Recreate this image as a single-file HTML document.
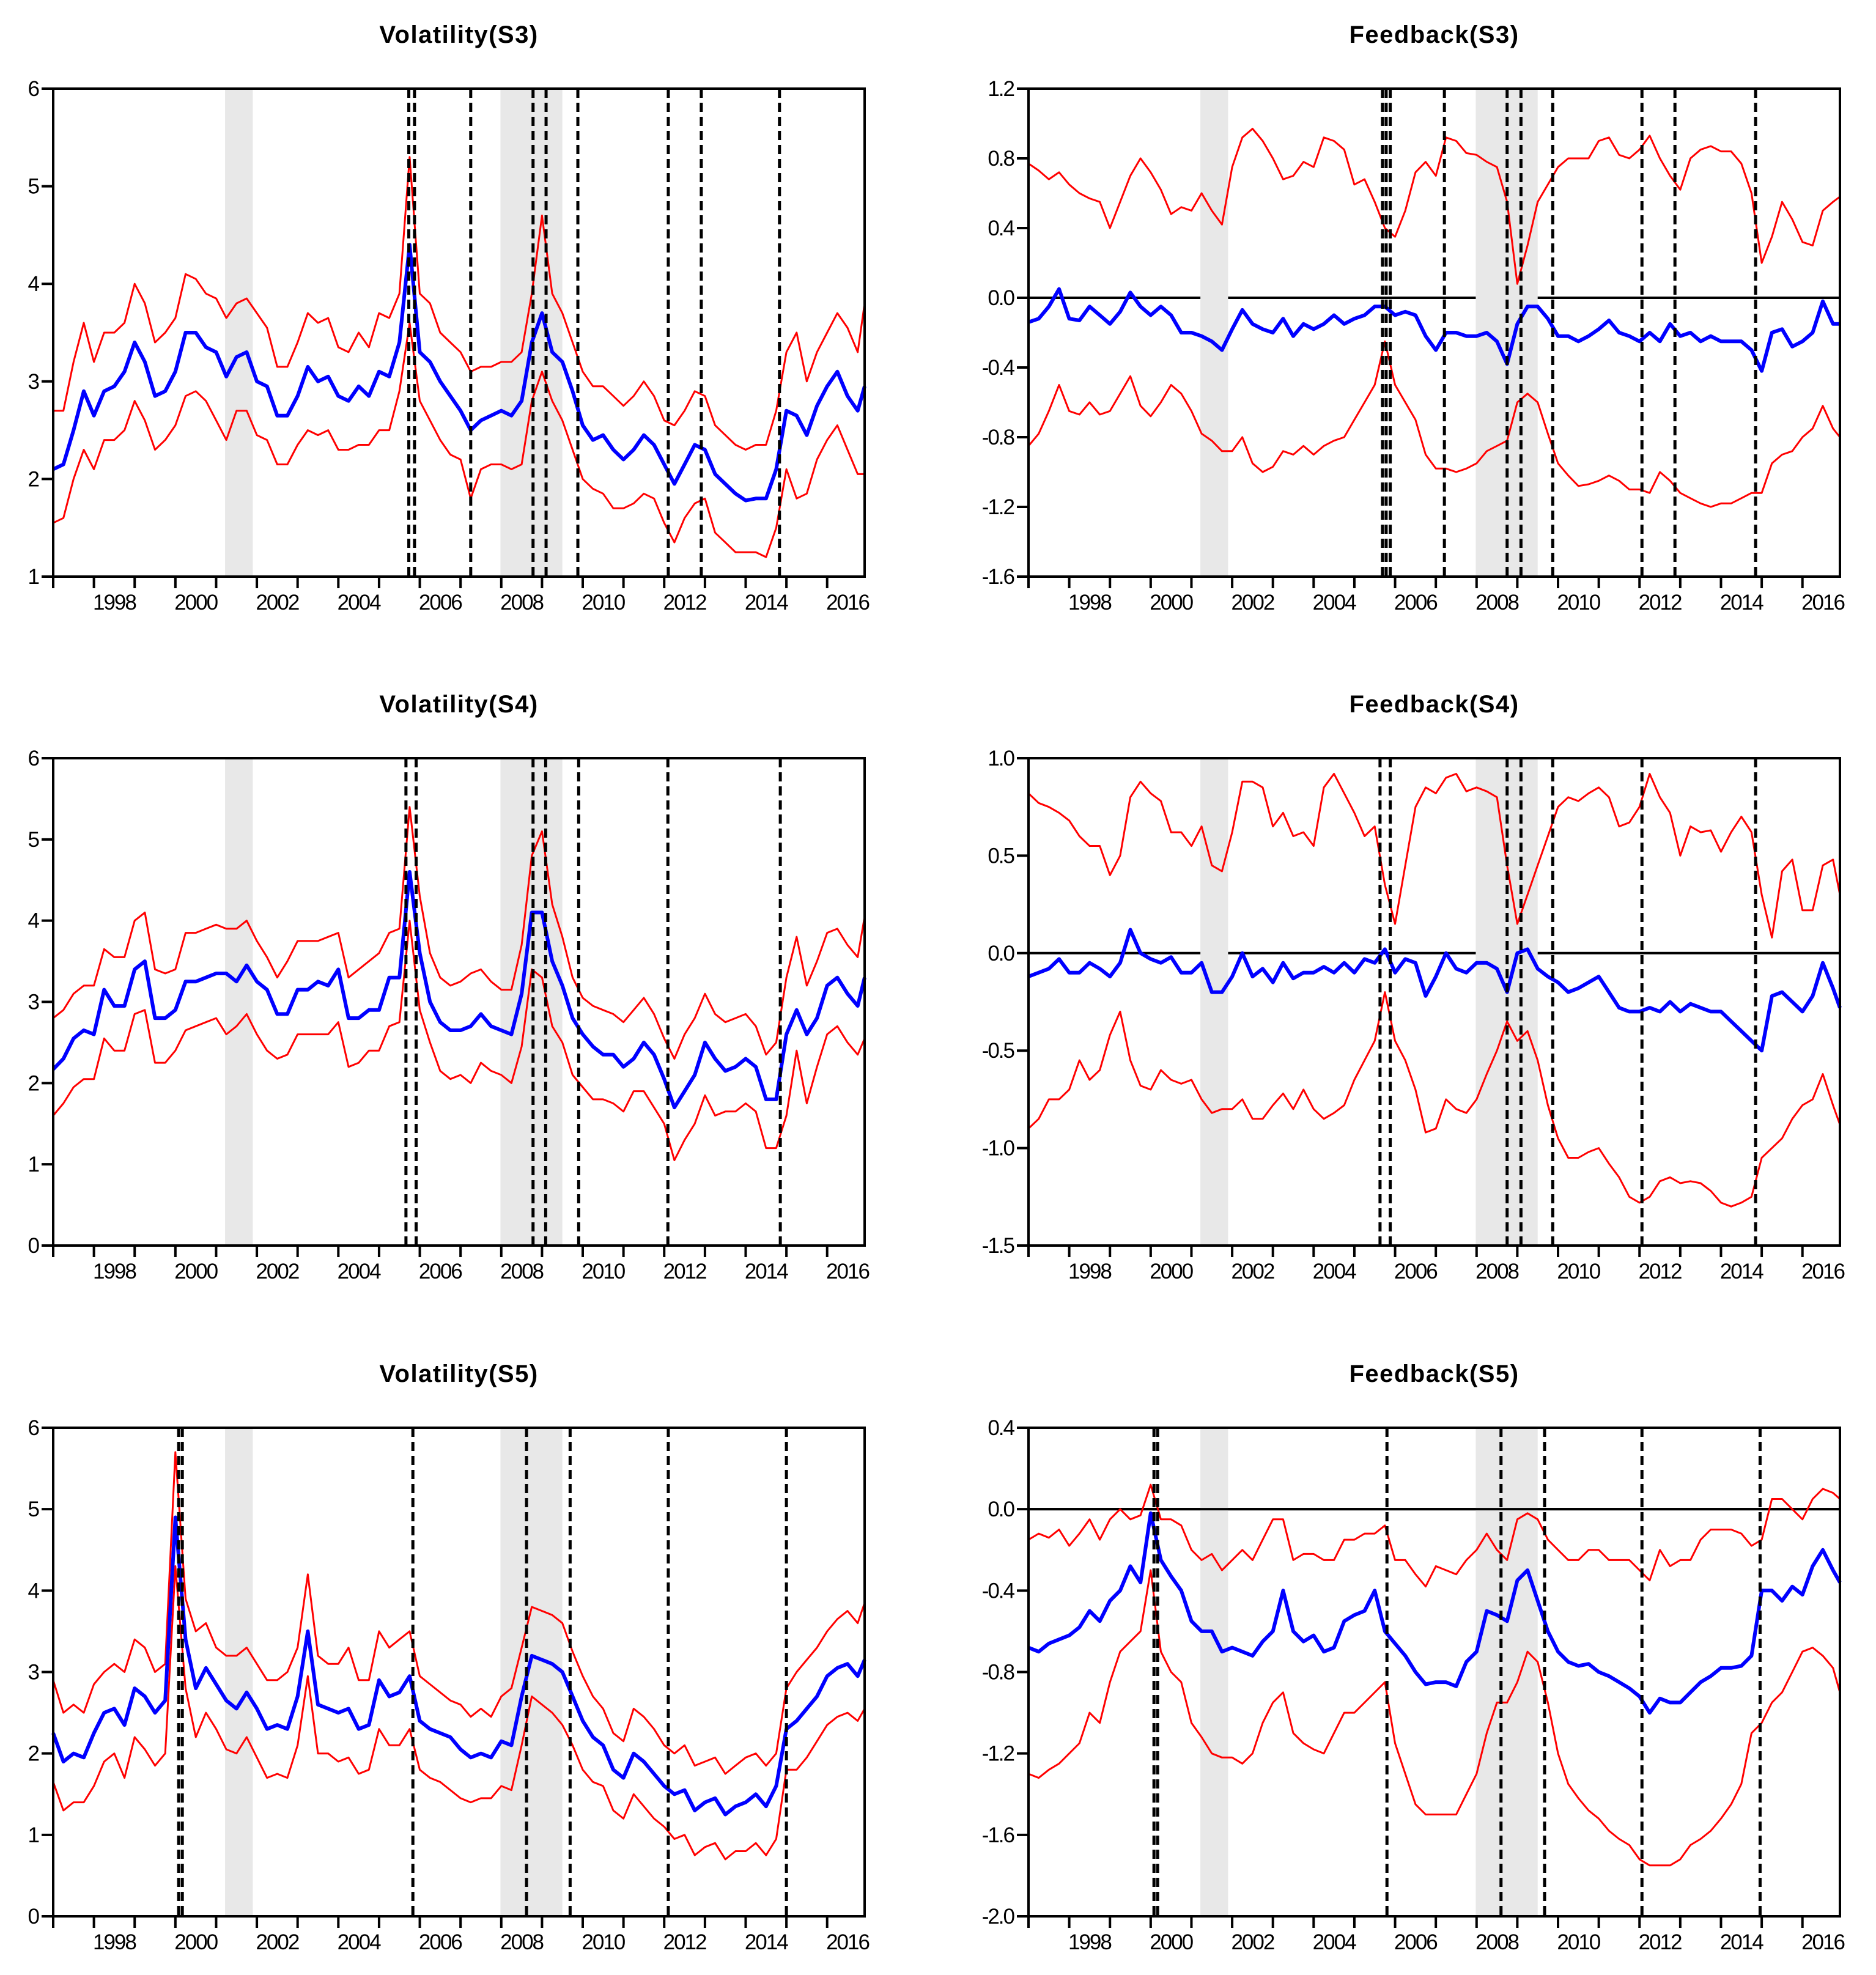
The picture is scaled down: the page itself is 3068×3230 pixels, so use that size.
<!DOCTYPE html>
<html><head><meta charset="utf-8">
<style>
html,body{margin:0;padding:0;background:#fff;}
svg{display:block;}
text{font-family:"Liberation Sans",Arial,sans-serif;}
</style></head>
<body>
<svg id="chart" width="3068" height="3230" viewBox="0 0 3068 3230" xmlns="http://www.w3.org/2000/svg"></svg>
<script>
// ---------- DATA (quarterly from 1997.0, last point 2016.92) ----------
const volS3Mid=[2.1,2.15,2.5,2.9,2.65,2.9,2.95,3.1,3.4,3.2,2.85,2.9,3.1,3.5,3.5,3.35,3.3,3.05,3.25,3.3,3.0,2.95,2.65,2.65,2.85,3.15,3.0,3.05,2.85,2.8,2.95,2.85,3.1,3.05,3.4,4.4,3.3,3.2,3.0,2.85,2.7,2.5,2.6,2.65,2.7,2.65,2.8,3.4,3.7,3.3,3.2,2.9,2.55,2.4,2.45,2.3,2.2,2.3,2.45,2.35,2.15,1.95,2.15,2.35,2.3,2.05,1.95,1.85,1.78,1.8,1.8,2.1,2.7,2.65,2.45,2.75,2.95,3.1,2.85,2.7,2.95];
const volS3Up=[2.7,2.7,3.2,3.6,3.2,3.5,3.5,3.6,4.0,3.8,3.4,3.5,3.65,4.1,4.05,3.9,3.85,3.65,3.8,3.85,3.7,3.55,3.15,3.15,3.4,3.7,3.6,3.65,3.35,3.3,3.5,3.35,3.7,3.65,3.9,5.3,3.9,3.8,3.5,3.4,3.3,3.1,3.15,3.15,3.2,3.2,3.3,3.9,4.7,3.9,3.7,3.4,3.1,2.95,2.95,2.85,2.75,2.85,3.0,2.85,2.6,2.55,2.7,2.9,2.85,2.55,2.45,2.35,2.3,2.35,2.35,2.7,3.3,3.5,3.0,3.3,3.5,3.7,3.55,3.3,3.8];
const volS3Lo=[1.55,1.6,2.0,2.3,2.1,2.4,2.4,2.5,2.8,2.6,2.3,2.4,2.55,2.85,2.9,2.8,2.6,2.4,2.7,2.7,2.45,2.4,2.15,2.15,2.35,2.5,2.45,2.5,2.3,2.3,2.35,2.35,2.5,2.5,2.9,3.6,2.8,2.6,2.4,2.25,2.2,1.8,2.1,2.15,2.15,2.1,2.15,2.8,3.1,2.8,2.6,2.3,2.0,1.9,1.85,1.7,1.7,1.75,1.85,1.8,1.55,1.35,1.6,1.75,1.8,1.45,1.35,1.25,1.25,1.25,1.2,1.5,2.1,1.8,1.85,2.2,2.4,2.55,2.3,2.05,2.05];

const volS4Mid=[2.17,2.3,2.55,2.65,2.6,3.15,2.95,2.95,3.4,3.5,2.8,2.8,2.9,3.25,3.25,3.3,3.35,3.35,3.25,3.45,3.25,3.15,2.85,2.85,3.15,3.15,3.25,3.2,3.4,2.8,2.8,2.9,2.9,3.3,3.3,4.6,3.6,3.0,2.75,2.65,2.65,2.7,2.85,2.7,2.65,2.6,3.1,4.1,4.1,3.5,3.2,2.8,2.6,2.45,2.35,2.35,2.2,2.3,2.5,2.35,2.05,1.7,1.9,2.1,2.5,2.3,2.15,2.2,2.3,2.2,1.8,1.8,2.6,2.9,2.6,2.8,3.2,3.3,3.1,2.95,3.3];
const volS4Up=[2.8,2.9,3.1,3.2,3.2,3.65,3.55,3.55,4.0,4.1,3.4,3.35,3.4,3.85,3.85,3.9,3.95,3.9,3.9,4.0,3.75,3.55,3.3,3.5,3.75,3.75,3.75,3.8,3.85,3.3,3.4,3.5,3.6,3.85,3.9,5.4,4.3,3.6,3.3,3.2,3.25,3.35,3.4,3.25,3.15,3.15,3.7,4.8,5.1,4.2,3.8,3.3,3.05,2.95,2.9,2.85,2.75,2.9,3.05,2.85,2.55,2.3,2.6,2.8,3.1,2.85,2.75,2.8,2.85,2.7,2.35,2.5,3.3,3.8,3.2,3.5,3.85,3.9,3.7,3.55,4.05];
const volS4Lo=[1.6,1.75,1.95,2.05,2.05,2.55,2.4,2.4,2.85,2.9,2.25,2.25,2.4,2.65,2.7,2.75,2.8,2.6,2.7,2.85,2.6,2.4,2.3,2.35,2.6,2.6,2.6,2.6,2.75,2.2,2.25,2.4,2.4,2.7,2.75,4.0,2.9,2.5,2.15,2.05,2.1,2.0,2.25,2.15,2.1,2.0,2.45,3.4,3.3,2.7,2.5,2.1,1.95,1.8,1.8,1.75,1.65,1.9,1.9,1.7,1.5,1.05,1.3,1.5,1.85,1.6,1.65,1.65,1.75,1.65,1.2,1.2,1.6,2.4,1.75,2.2,2.6,2.7,2.5,2.35,2.55];

const volS5Mid=[2.25,1.9,2.0,1.95,2.25,2.5,2.55,2.35,2.8,2.7,2.5,2.65,4.9,3.4,2.8,3.05,2.85,2.65,2.55,2.75,2.55,2.3,2.35,2.3,2.7,3.5,2.6,2.55,2.5,2.55,2.3,2.35,2.9,2.7,2.75,2.95,2.4,2.3,2.25,2.2,2.05,1.95,2.0,1.95,2.15,2.1,2.7,3.2,3.15,3.1,3.0,2.7,2.4,2.2,2.1,1.8,1.7,2.0,1.9,1.75,1.6,1.5,1.55,1.3,1.4,1.45,1.25,1.35,1.4,1.5,1.35,1.6,2.3,2.4,2.55,2.7,2.95,3.05,3.1,2.95,3.15];
const volS5Up=[2.9,2.5,2.6,2.5,2.85,3.0,3.1,3.0,3.4,3.3,3.0,3.1,5.7,3.9,3.5,3.6,3.3,3.2,3.2,3.3,3.1,2.9,2.9,3.0,3.3,4.2,3.2,3.1,3.1,3.3,2.9,2.9,3.5,3.3,3.4,3.5,2.95,2.85,2.75,2.65,2.6,2.45,2.55,2.45,2.7,2.8,3.3,3.8,3.75,3.7,3.6,3.25,2.95,2.7,2.55,2.25,2.15,2.55,2.45,2.3,2.1,2.0,2.1,1.85,1.9,1.95,1.75,1.85,1.95,2.0,1.85,2.0,2.8,3.0,3.15,3.3,3.5,3.65,3.75,3.6,3.85];
const volS5Lo=[1.65,1.3,1.4,1.4,1.6,1.9,2.0,1.7,2.2,2.05,1.85,2.0,4.3,2.8,2.2,2.5,2.3,2.05,2.0,2.2,1.95,1.7,1.75,1.7,2.1,2.95,2.0,2.0,1.9,1.95,1.75,1.8,2.3,2.1,2.1,2.3,1.8,1.7,1.65,1.55,1.45,1.4,1.45,1.45,1.6,1.55,2.1,2.7,2.6,2.5,2.35,2.1,1.8,1.65,1.6,1.3,1.2,1.5,1.35,1.2,1.1,0.95,1.0,0.75,0.85,0.9,0.7,0.8,0.8,0.9,0.75,0.95,1.8,1.8,1.95,2.15,2.35,2.45,2.5,2.4,2.55];

const fbS3Mid=[-0.14,-0.12,-0.05,0.05,-0.12,-0.13,-0.05,-0.1,-0.15,-0.08,0.03,-0.05,-0.1,-0.05,-0.1,-0.2,-0.2,-0.22,-0.25,-0.3,-0.18,-0.07,-0.15,-0.18,-0.2,-0.12,-0.22,-0.15,-0.18,-0.15,-0.1,-0.15,-0.12,-0.1,-0.05,-0.05,-0.1,-0.08,-0.1,-0.22,-0.3,-0.2,-0.2,-0.22,-0.22,-0.2,-0.25,-0.38,-0.15,-0.05,-0.05,-0.12,-0.22,-0.22,-0.25,-0.22,-0.18,-0.13,-0.2,-0.22,-0.25,-0.2,-0.25,-0.15,-0.22,-0.2,-0.25,-0.22,-0.25,-0.25,-0.25,-0.3,-0.42,-0.2,-0.18,-0.28,-0.25,-0.2,-0.02,-0.15,-0.15];
const fbS3Up=[0.77,0.73,0.68,0.72,0.65,0.6,0.57,0.55,0.4,0.55,0.7,0.8,0.72,0.62,0.48,0.52,0.5,0.6,0.5,0.42,0.75,0.92,0.97,0.9,0.8,0.68,0.7,0.78,0.75,0.92,0.9,0.85,0.65,0.68,0.55,0.4,0.35,0.5,0.72,0.78,0.7,0.92,0.9,0.83,0.82,0.78,0.75,0.55,0.08,0.3,0.55,0.65,0.75,0.8,0.8,0.8,0.9,0.92,0.82,0.8,0.85,0.93,0.8,0.7,0.62,0.8,0.85,0.87,0.84,0.84,0.77,0.6,0.2,0.35,0.55,0.45,0.32,0.3,0.5,0.55,0.58];
const fbS3Lo=[-0.85,-0.78,-0.65,-0.5,-0.65,-0.67,-0.6,-0.67,-0.65,-0.55,-0.45,-0.62,-0.68,-0.6,-0.5,-0.55,-0.65,-0.78,-0.82,-0.88,-0.88,-0.8,-0.95,-1.0,-0.97,-0.88,-0.9,-0.85,-0.9,-0.85,-0.82,-0.8,-0.7,-0.6,-0.5,-0.25,-0.5,-0.6,-0.7,-0.9,-0.98,-0.98,-1.0,-0.98,-0.95,-0.88,-0.85,-0.82,-0.6,-0.55,-0.6,-0.78,-0.95,-1.02,-1.08,-1.07,-1.05,-1.02,-1.05,-1.1,-1.1,-1.12,-1.0,-1.05,-1.12,-1.15,-1.18,-1.2,-1.18,-1.18,-1.15,-1.12,-1.12,-0.95,-0.9,-0.88,-0.8,-0.75,-0.62,-0.75,-0.8];

const fbS4Mid=[-0.12,-0.1,-0.08,-0.03,-0.1,-0.1,-0.05,-0.08,-0.12,-0.05,0.12,0.0,-0.03,-0.05,-0.02,-0.1,-0.1,-0.05,-0.2,-0.2,-0.12,0.0,-0.12,-0.08,-0.15,-0.05,-0.13,-0.1,-0.1,-0.07,-0.1,-0.05,-0.1,-0.03,-0.05,0.02,-0.1,-0.03,-0.05,-0.22,-0.12,0.0,-0.08,-0.1,-0.05,-0.05,-0.08,-0.2,0.0,0.02,-0.08,-0.12,-0.15,-0.2,-0.18,-0.15,-0.12,-0.2,-0.28,-0.3,-0.3,-0.28,-0.3,-0.25,-0.3,-0.26,-0.28,-0.3,-0.3,-0.35,-0.4,-0.45,-0.5,-0.22,-0.2,-0.25,-0.3,-0.22,-0.05,-0.18,-0.28];
const fbS4Up=[0.82,0.77,0.75,0.72,0.68,0.6,0.55,0.55,0.4,0.5,0.8,0.88,0.82,0.78,0.62,0.62,0.55,0.65,0.45,0.42,0.62,0.88,0.88,0.85,0.65,0.72,0.6,0.62,0.55,0.85,0.92,0.82,0.72,0.6,0.65,0.35,0.15,0.45,0.75,0.85,0.82,0.9,0.92,0.83,0.85,0.83,0.8,0.45,0.15,0.3,0.45,0.6,0.75,0.8,0.78,0.82,0.85,0.8,0.65,0.67,0.75,0.92,0.8,0.72,0.5,0.65,0.62,0.63,0.52,0.62,0.7,0.62,0.3,0.08,0.42,0.48,0.22,0.22,0.45,0.48,0.3];
const fbS4Lo=[-0.9,-0.85,-0.75,-0.75,-0.7,-0.55,-0.65,-0.6,-0.42,-0.3,-0.55,-0.68,-0.7,-0.6,-0.65,-0.67,-0.65,-0.75,-0.82,-0.8,-0.8,-0.75,-0.85,-0.85,-0.78,-0.72,-0.8,-0.7,-0.8,-0.85,-0.82,-0.78,-0.65,-0.55,-0.45,-0.2,-0.45,-0.55,-0.7,-0.92,-0.9,-0.75,-0.8,-0.82,-0.75,-0.62,-0.5,-0.35,-0.45,-0.4,-0.55,-0.78,-0.95,-1.05,-1.05,-1.02,-1.0,-1.08,-1.15,-1.25,-1.28,-1.25,-1.17,-1.15,-1.18,-1.17,-1.18,-1.22,-1.28,-1.3,-1.28,-1.25,-1.05,-1.0,-0.95,-0.85,-0.78,-0.75,-0.62,-0.78,-0.88];

const fbS5Mid=[-0.68,-0.7,-0.66,-0.64,-0.62,-0.58,-0.5,-0.55,-0.45,-0.4,-0.28,-0.36,-0.02,-0.25,-0.33,-0.4,-0.55,-0.6,-0.6,-0.7,-0.68,-0.7,-0.72,-0.65,-0.6,-0.4,-0.6,-0.65,-0.62,-0.7,-0.68,-0.55,-0.52,-0.5,-0.4,-0.6,-0.66,-0.72,-0.8,-0.86,-0.85,-0.85,-0.87,-0.75,-0.7,-0.5,-0.52,-0.55,-0.35,-0.3,-0.45,-0.6,-0.7,-0.75,-0.77,-0.76,-0.8,-0.82,-0.85,-0.88,-0.92,-1.0,-0.93,-0.95,-0.95,-0.9,-0.85,-0.82,-0.78,-0.78,-0.77,-0.72,-0.4,-0.4,-0.45,-0.38,-0.42,-0.28,-0.2,-0.3,-0.36];
const fbS5Up=[-0.15,-0.12,-0.14,-0.1,-0.18,-0.12,-0.05,-0.15,-0.05,0.0,-0.05,-0.03,0.12,-0.05,-0.05,-0.08,-0.2,-0.25,-0.22,-0.3,-0.25,-0.2,-0.25,-0.15,-0.05,-0.05,-0.25,-0.22,-0.22,-0.25,-0.25,-0.15,-0.15,-0.12,-0.12,-0.08,-0.25,-0.25,-0.32,-0.38,-0.28,-0.3,-0.32,-0.25,-0.2,-0.12,-0.2,-0.25,-0.05,-0.02,-0.05,-0.15,-0.2,-0.25,-0.25,-0.2,-0.2,-0.25,-0.25,-0.25,-0.3,-0.35,-0.2,-0.28,-0.25,-0.25,-0.15,-0.1,-0.1,-0.1,-0.12,-0.18,-0.15,0.05,0.05,0.0,-0.05,0.05,0.1,0.08,0.05];
const fbS5Lo=[-1.3,-1.32,-1.28,-1.25,-1.2,-1.15,-1.0,-1.05,-0.85,-0.7,-0.65,-0.6,-0.3,-0.7,-0.8,-0.85,-1.05,-1.12,-1.2,-1.22,-1.22,-1.25,-1.2,-1.05,-0.95,-0.9,-1.1,-1.15,-1.18,-1.2,-1.1,-1.0,-1.0,-0.95,-0.9,-0.85,-1.15,-1.3,-1.45,-1.5,-1.5,-1.5,-1.5,-1.4,-1.3,-1.1,-0.95,-0.95,-0.85,-0.7,-0.75,-0.95,-1.2,-1.35,-1.42,-1.48,-1.52,-1.58,-1.62,-1.65,-1.72,-1.75,-1.75,-1.75,-1.72,-1.65,-1.62,-1.58,-1.52,-1.45,-1.35,-1.1,-1.05,-0.95,-0.9,-0.8,-0.7,-0.68,-0.72,-0.78,-0.9];

const volS3Breaks=[2005.73,2005.87,2007.25,2008.78,2009.1,2009.88,2012.1,2012.91,2014.83];
const volS4Breaks=[2005.66,2005.91,2008.78,2009.09,2009.9,2012.09,2014.85];
const volS5Breaks=[2000.08,2000.17,2005.83,2008.62,2009.69,2012.1,2015.0];
const fbS3Breaks=[2005.69,2005.78,2005.88,2007.21,2008.75,2009.09,2009.87,2012.06,2012.87,2014.85];
const fbS4Breaks=[2005.63,2005.88,2008.75,2009.09,2009.87,2012.06,2014.85];
const fbS5Breaks=[2000.08,2000.17,2005.8,2008.6,2009.67,2012.06,2014.96];

const recessionStart=[2001.22,2007.98];
const recessionEnd=[2001.9,2009.5];
const yearTicks=[1997,1998,1999,2000,2001,2002,2003,2004,2005,2006,2007,2008,2009,2010,2011,2012,2013,2014,2015,2016];
const yearLabels=[1998,2000,2002,2004,2006,2008,2010,2012,2014,2016];
const volTicks6=[1,2,3,4,5,6];
const volTicks06=[0,1,2,3,4,5,6];
const fbS3Ticks=[1.2,0.8,0.4,0.0,-0.4,-0.8,-1.2,-1.6];
const fbS4Ticks=[1.0,0.5,0.0,-0.5,-1.0,-1.5];
const fbS5Ticks=[0.4,0.0,-0.4,-0.8,-1.2,-1.6,-2.0];

// ---------- RENDER ----------
const NS="http://www.w3.org/2000/svg";
const svg=document.getElementById('chart');
function el(tag,attrs,parent){const e=document.createElementNS(NS,tag);for(const k in attrs)e.setAttribute(k,attrs[k]);(parent||svg).appendChild(e);return e;}
function dateAt(i){return i<80?1997+0.25*i:2016.92;}
const X0=1997.0,X1=2016.92;

const panels=[
 {key:'volatility-s3',title:'Volatility(S3)',x0:87,x1:1414,y0:145,y1:943,ymin:1,ymax:6,ticks:volTicks6,dec:0,mid:volS3Mid,up:volS3Up,lo:volS3Lo,br:volS3Breaks,zero:false},
 {key:'feedback-s3',title:'Feedback(S3)',x0:1682,x1:3009,y0:145,y1:943,ymin:-1.6,ymax:1.2,ticks:fbS3Ticks,dec:1,mid:fbS3Mid,up:fbS3Up,lo:fbS3Lo,br:fbS3Breaks,zero:true,zeroBehind:true},
 {key:'volatility-s4',title:'Volatility(S4)',x0:87,x1:1414,y0:1240,y1:2037,ymin:0,ymax:6,ticks:volTicks06,dec:0,mid:volS4Mid,up:volS4Up,lo:volS4Lo,br:volS4Breaks,zero:false},
 {key:'feedback-s4',title:'Feedback(S4)',x0:1682,x1:3009,y0:1240,y1:2037,ymin:-1.5,ymax:1.0,ticks:fbS4Ticks,dec:1,mid:fbS4Mid,up:fbS4Up,lo:fbS4Lo,br:fbS4Breaks,zero:true,zeroBehind:true},
 {key:'volatility-s5',title:'Volatility(S5)',x0:87,x1:1414,y0:2335,y1:3134,ymin:0,ymax:6,ticks:volTicks06,dec:0,mid:volS5Mid,up:volS5Up,lo:volS5Lo,br:volS5Breaks,zero:false},
 {key:'feedback-s5',title:'Feedback(S5)',x0:1682,x1:3009,y0:2335,y1:3134,ymin:-2.0,ymax:0.4,ticks:fbS5Ticks,dec:1,mid:fbS5Mid,up:fbS5Up,lo:fbS5Lo,br:fbS5Breaks,zero:true,zeroBehind:false}
];

panels.forEach(p=>{
  const g=el('g',{});
  
  
  const sx=v=>p.x0+(v-X0)/(X1-X0)*(p.x1-p.x0);
  const sy=v=>p.y1-(v-p.ymin)/(p.ymax-p.ymin)*(p.y1-p.y0);

  const t=el('text',{x:(p.x0+p.x1)/2,y:p.y0-75,'text-anchor':'middle','font-size':40,'font-weight':'bold','letter-spacing':'1.5'},g);
  t.textContent=p.title;
  
  

  if(p.zero){
    const z=el('line',{x1:p.x0,x2:p.x1,y1:sy(0),y2:sy(0),stroke:'#000','stroke-width':4},g);
    
    
  }
  recessionStart.forEach((s,i)=>{
    const r=el('rect',{x:sx(s),y:p.y0,width:sx(recessionEnd[i])-sx(s),height:p.y1-p.y0,fill:'#e8e8e8'},g);
    
    
  });
  if(p.zero && !p.zeroBehind){
    const z2=el('line',{x1:p.x0,x2:p.x1,y1:sy(0),y2:sy(0),stroke:'#000','stroke-width':4},g);
    
    
  }
  const pathOf=arr=>arr.map((v,i)=>(i?'L':'M')+sx(dateAt(i)).toFixed(1)+' '+sy(v).toFixed(1)).join(' ');
  const up=el('path',{d:pathOf(p.up),fill:'none',stroke:'#ff0000','stroke-width':3,'stroke-linejoin':'round'},g);
  
  
  const lo=el('path',{d:pathOf(p.lo),fill:'none',stroke:'#ff0000','stroke-width':3,'stroke-linejoin':'round'},g);
  
  
  const mid=el('path',{d:pathOf(p.mid),fill:'none',stroke:'#0000ff','stroke-width':6,'stroke-linejoin':'round'},g);
  
  

  p.br.forEach(b=>{
    const d=el('line',{x1:sx(b),x2:sx(b),y1:p.y0,y2:p.y1,stroke:'#000','stroke-width':5,'stroke-dasharray':'15 8'},g);
    
    
  });

  const fr=el('rect',{x:p.x0,y:p.y0,width:p.x1-p.x0,height:p.y1-p.y0,fill:'none',stroke:'#000','stroke-width':4},g);
  
  

  p.ticks.forEach(v=>{
    const y=sy(v);
    el('line',{x1:p.x0-19,x2:p.x0,y1:y,y2:y,stroke:'#000','stroke-width':4},g);
    const lt=el('text',{x:p.x0-24,y:y+12,'text-anchor':'end','font-size':35,'letter-spacing':'-2'},g);
    lt.textContent=v.toFixed(p.dec);
    
    
  });
  yearTicks.forEach(yr=>{
    const x=sx(yr);
    el('line',{x1:x,x2:x,y1:p.y1,y2:p.y1+19,stroke:'#000','stroke-width':4},g);
  });
  yearLabels.forEach(yr=>{
    const xt=el('text',{x:sx(yr+0.5),y:p.y1+54,'text-anchor':'middle','font-size':35,'letter-spacing':'-2'},g);
    xt.textContent=String(yr);
    
    
  });
});
</script>
</body></html>
